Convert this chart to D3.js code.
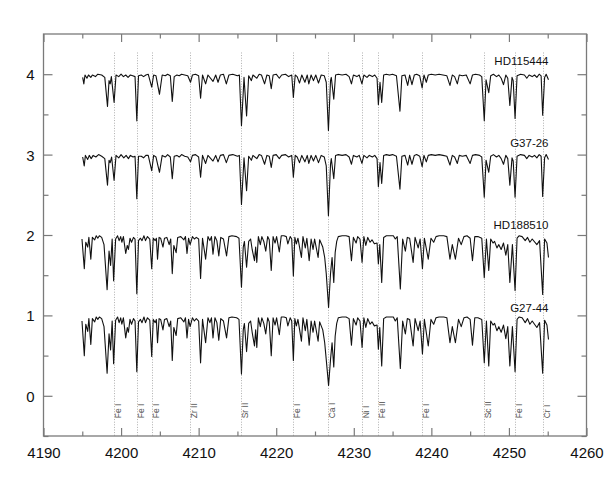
<!DOCTYPE html>
<html><head><meta charset="utf-8">
<script src="https://cdn.jsdelivr.net/npm/d3@7"></script>
<style>body{margin:0;background:#fff}</style>
</head><body><svg id="c" width="605" height="491"></svg>
<script>
// ---------- data (normalised flux) ----------
const starNames = ["HD115444", "G37-26", "HD188510", "G27-44"];
const offsets = [3, 2, 1, 0];
const labelLevels = [4.12, 3.10, 2.08, 1.04];

const hd115444 = [
[4195.05,0.96],[4195.2,0.88],[4195.35,0.99],[4195.6,0.95],[4195.8,0.99],[4196.1,0.96],[4196.3,0.99],[4196.7,0.97],[4197.0,1.0],[4197.5,0.99],[4197.9,0.96],
[4198.25,0.60],[4198.45,0.92],[4198.6,0.88],[4198.75,0.97],[4199.1,0.65],[4199.35,0.99],[4199.7,0.97],[4200.0,1.0],[4200.3,0.97],[4200.6,0.99],[4200.9,0.96],[4201.2,0.99],[4201.5,0.98],[4201.8,0.97],
[4202.03,0.42],[4202.25,0.98],[4202.6,0.99],[4202.9,0.97],[4203.2,0.99],[4203.5,1.0],[4203.95,0.84],[4204.2,0.99],[4204.5,0.98],[4204.95,0.75],[4205.3,0.99],[4205.7,0.98],[4206.0,1.0],[4206.35,0.98],
[4206.6,0.66],[4206.85,0.97],[4207.2,0.99],[4207.5,0.98],[4207.8,1.0],[4208.2,0.99],[4208.6,0.98],[4208.95,0.90],[4209.2,0.99],[4209.6,1.0],[4210.0,0.98],[4210.25,0.70],[4210.5,0.99],[4210.9,0.88],[4211.2,0.99],
[4211.85,0.91],[4212.2,0.99],[4212.5,0.90],[4212.8,0.99],[4213.2,1.0],[4213.57,0.88],[4213.9,0.99],[4214.4,1.0],[4215.0,0.98],[4215.25,0.99],[4215.52,0.36],[4215.85,0.96],[4216.18,0.48],[4216.45,0.98],
[4216.8,0.92],[4217.0,0.99],[4217.5,0.95],[4217.8,1.0],[4218.1,0.99],[4218.5,0.88],[4218.8,0.99],[4219.1,0.98],[4219.36,0.82],[4219.6,0.99],[4220.0,1.0],[4220.4,0.95],[4220.7,0.99],[4221.2,1.0],[4221.6,0.97],[4222.0,0.99],
[4222.21,0.71],[4222.45,0.99],[4222.7,0.97],[4223.0,0.89],[4223.3,0.99],[4223.7,0.90],[4224.0,0.99],[4224.2,0.88],[4224.5,0.99],[4224.8,0.92],[4225.1,0.99],[4225.45,0.89],[4225.8,0.99],[4226.2,0.98],[4226.45,0.90],
[4226.73,0.30],[4227.0,0.92],[4227.1,0.96],[4227.42,0.69],[4227.65,0.99],[4228.0,1.0],[4228.5,0.99],[4229.0,1.0],[4229.4,0.97],[4229.7,0.88],[4229.95,0.99],[4230.4,0.97],[4230.7,0.99],[4231.05,0.88],[4231.3,0.99],
[4231.7,0.96],[4232.0,0.99],[4232.4,0.97],[4232.7,0.99],[4233.0,0.95],[4233.17,0.62],[4233.38,0.90],[4233.6,0.65],[4233.85,0.99],[4234.2,1.0],[4234.6,0.99],[4235.0,1.0],[4235.5,0.98],[4235.95,0.54],[4236.2,0.98],
[4236.6,0.99],[4236.95,0.86],[4237.2,0.99],[4237.5,0.87],[4237.8,0.99],[4238.1,1.0],[4238.5,0.98],[4238.81,0.83],[4239.05,0.99],[4239.35,0.90],[4239.6,0.99],[4240.0,1.0],[4240.5,0.99],[4241.0,1.0],[4241.5,0.99],
[4242.0,0.98],[4242.4,0.86],[4242.7,0.99],[4243.0,0.97],[4243.35,0.88],[4243.6,0.99],[4244.0,0.98],[4244.5,0.99],[4245.0,0.88],[4245.3,0.99],[4245.7,1.0],[4246.2,0.99],[4246.5,0.97],[4246.82,0.42],[4247.05,0.93],
[4247.4,0.77],[4247.65,0.98],[4248.0,1.0],[4248.4,0.97],[4248.7,0.99],[4249.0,0.95],[4249.3,0.87],[4249.6,0.99],[4249.85,0.95],[4250.12,0.61],[4250.4,0.96],[4250.55,0.92],[4250.79,0.45],[4251.05,0.98],[4251.5,1.0],
[4252.0,0.99],[4252.3,0.95],[4252.6,0.99],[4253.0,0.97],[4253.3,0.99],[4253.6,0.96],[4253.9,1.0],[4254.15,0.98],[4254.35,0.49],[4254.6,0.96],[4254.8,1.0],[4255.1,0.93]
];

const g3726 = [
[4195.05,0.97],[4195.25,0.86],[4195.4,0.99],[4195.7,0.94],[4195.9,0.99],[4196.15,0.95],[4196.4,0.99],[4196.75,0.97],[4197.1,1.0],[4197.5,0.98],[4197.9,0.95],
[4198.25,0.62],[4198.45,0.93],[4198.6,0.90],[4198.78,0.97],[4199.1,0.68],[4199.35,0.99],[4199.7,0.96],[4200.0,1.0],[4200.35,0.96],[4200.65,0.99],[4200.95,0.95],[4201.2,0.99],[4201.55,0.97],[4201.8,0.98],
[4202.03,0.45],[4202.25,0.98],[4202.6,0.98],[4202.9,0.96],[4203.2,0.99],[4203.5,0.99],[4203.95,0.80],[4204.2,0.99],[4204.5,0.97],[4204.95,0.78],[4205.3,0.99],[4205.7,0.97],[4206.0,1.0],[4206.35,0.97],
[4206.6,0.70],[4206.85,0.98],[4207.2,0.99],[4207.5,0.97],[4207.8,1.0],[4208.2,0.98],[4208.6,0.97],[4208.95,0.91],[4209.2,0.99],[4209.6,1.0],[4210.0,0.97],[4210.25,0.72],[4210.5,0.99],[4210.9,0.89],[4211.2,0.99],
[4211.85,0.92],[4212.2,0.99],[4212.5,0.91],[4212.8,0.99],[4213.2,1.0],[4213.57,0.90],[4213.9,0.99],[4214.4,1.0],[4215.0,0.98],[4215.25,0.99],[4215.52,0.38],[4215.85,0.96],[4216.18,0.55],[4216.45,0.98],
[4216.8,0.93],[4217.0,0.99],[4217.5,0.95],[4217.8,1.0],[4218.1,0.99],[4218.5,0.88],[4218.8,0.99],[4219.1,0.98],[4219.36,0.84],[4219.6,0.99],[4220.0,1.0],[4220.4,0.95],[4220.7,0.99],[4221.2,1.0],[4221.6,0.97],[4222.0,0.99],
[4222.21,0.72],[4222.45,0.99],[4222.7,0.97],[4223.0,0.90],[4223.3,0.99],[4223.7,0.91],[4224.0,0.99],[4224.2,0.89],[4224.5,0.99],[4224.8,0.92],[4225.1,0.99],[4225.45,0.90],[4225.8,0.99],[4226.2,0.97],[4226.45,0.86],
[4226.73,0.24],[4227.0,0.88],[4227.1,0.95],[4227.42,0.70],[4227.65,0.99],[4228.0,1.0],[4228.5,0.99],[4229.0,1.0],[4229.4,0.97],[4229.7,0.88],[4229.95,0.99],[4230.4,0.97],[4230.7,0.99],[4231.05,0.89],[4231.3,0.99],
[4231.7,0.96],[4232.0,0.99],[4232.4,0.97],[4232.7,0.99],[4233.0,0.95],[4233.17,0.60],[4233.38,0.90],[4233.6,0.64],[4233.85,0.99],[4234.2,1.0],[4234.6,0.99],[4235.0,1.0],[4235.5,0.98],[4235.95,0.57],[4236.2,0.98],
[4236.6,0.99],[4236.95,0.87],[4237.2,0.99],[4237.5,0.88],[4237.8,0.99],[4238.1,1.0],[4238.5,0.98],[4238.81,0.85],[4239.05,0.99],[4239.35,0.91],[4239.6,0.99],[4240.0,1.0],[4240.5,0.99],[4241.0,1.0],[4241.5,0.99],
[4242.0,0.98],[4242.4,0.87],[4242.7,0.99],[4243.0,0.97],[4243.35,0.89],[4243.6,0.99],[4244.0,0.98],[4244.5,0.99],[4245.0,0.89],[4245.3,0.99],[4245.7,1.0],[4246.2,0.99],[4246.5,0.97],[4246.82,0.47],[4247.05,0.93],
[4247.4,0.78],[4247.65,0.98],[4248.0,1.0],[4248.4,0.97],[4248.7,0.99],[4249.0,0.95],[4249.3,0.88],[4249.6,0.99],[4249.85,0.95],[4250.12,0.62],[4250.4,0.96],[4250.55,0.92],[4250.79,0.47],[4251.05,0.98],[4251.5,1.0],
[4252.0,0.99],[4252.3,0.95],[4252.6,0.99],[4253.0,0.97],[4253.3,0.99],[4253.6,0.96],[4253.9,1.0],[4254.15,0.98],[4254.35,0.48],[4254.6,0.96],[4254.8,1.0],[4255.1,0.94]
];

const hd188510 = [
[4194.96,0.95],[4195.26,0.58],[4195.45,0.91],[4195.7,0.85],[4195.85,0.97],[4196.1,0.70],[4196.3,0.97],[4196.6,0.94],[4196.8,0.99],[4197.0,0.96],[4197.2,0.99],[4197.5,0.97],[4197.8,0.88],
[4198.2,0.32],[4198.45,0.80],[4198.65,0.62],[4198.85,0.95],[4199.04,0.43],[4199.3,0.95],[4199.55,0.99],[4199.75,0.93],[4199.95,0.98],[4200.1,0.91],[4200.3,0.98],[4200.6,0.77],[4200.8,0.87],[4200.95,0.82],
[4201.15,0.96],[4201.35,0.91],[4201.6,0.97],[4201.8,0.95],[4202.03,0.27],[4202.25,0.93],[4202.5,0.96],[4202.7,0.93],[4202.95,0.99],[4203.15,0.93],[4203.4,0.98],[4203.7,0.95],[4203.95,0.58],[4204.15,0.96],
[4204.4,0.93],[4204.55,0.96],[4204.7,0.70],[4204.9,0.97],[4205.1,0.96],[4205.4,0.85],[4205.6,0.96],[4205.9,0.97],[4206.2,0.88],[4206.4,0.95],[4206.6,0.52],[4206.8,0.87],[4207.1,0.78],[4207.3,0.97],[4207.7,0.98],
[4208.1,0.94],[4208.3,0.98],[4208.5,0.77],[4208.7,0.96],[4208.9,0.88],[4209.2,0.98],[4209.45,0.95],[4209.7,0.97],[4210.0,0.95],[4210.25,0.46],[4210.5,0.96],[4210.9,0.70],[4211.2,0.98],[4211.45,0.93],[4211.65,0.98],
[4211.85,0.76],[4212.1,0.98],[4212.35,0.93],[4212.6,0.74],[4212.85,0.97],[4213.2,0.95],[4213.6,0.74],[4213.9,0.98],[4214.3,0.99],[4214.9,0.98],[4215.2,0.96],[4215.52,0.35],[4215.75,0.85],[4215.9,0.92],[4216.18,0.60],
[4216.45,0.92],[4216.7,0.95],[4216.9,0.82],[4217.2,0.68],[4217.35,0.85],[4217.5,0.66],[4217.7,0.98],[4217.95,0.88],[4218.15,0.98],[4218.4,0.92],[4218.65,0.80],[4218.9,0.98],[4219.1,0.94],[4219.36,0.56],[4219.6,0.98],
[4219.85,0.90],[4220.05,0.98],[4220.4,0.79],[4220.65,0.99],[4221.0,0.99],[4221.3,0.98],[4221.5,0.89],[4221.8,0.98],[4222.0,0.95],[4222.21,0.49],[4222.4,0.97],[4222.6,0.89],[4222.8,0.96],[4223.25,0.72],[4223.45,0.98],
[4223.75,0.84],[4223.95,0.96],[4224.25,0.68],[4224.5,0.95],[4224.75,0.82],[4224.95,0.95],[4225.4,0.72],[4225.6,0.94],[4226.0,0.85],[4226.25,0.72],[4226.45,0.52],[4226.75,0.10],[4227.0,0.52],[4227.2,0.72],[4227.42,0.41],
[4227.6,0.78],[4227.8,0.92],[4228.0,0.98],[4228.5,0.99],[4229.0,0.99],[4229.4,0.98],[4229.7,0.68],[4229.95,0.97],[4230.3,0.90],[4230.5,0.98],[4230.8,0.95],[4231.07,0.66],[4231.3,0.98],[4231.55,0.87],[4231.8,0.97],
[4232.1,0.91],[4232.35,0.94],[4232.65,0.89],[4233.0,0.90],[4233.17,0.64],[4233.35,0.88],[4233.6,0.41],[4233.85,0.97],[4234.2,0.99],[4234.7,0.99],[4235.1,0.99],[4235.35,0.95],[4235.6,0.98],[4236.0,0.33],[4236.3,0.95],
[4236.65,0.80],[4236.9,0.97],[4237.2,0.96],[4237.65,0.66],[4237.9,0.97],[4238.3,0.84],[4238.55,0.95],[4238.85,0.58],[4239.1,0.96],[4239.6,0.70],[4239.95,0.96],[4240.3,0.91],[4240.6,0.98],[4241.0,0.99],[4241.6,0.99],
[4242.0,0.98],[4242.4,0.70],[4242.7,0.88],[4243.1,0.70],[4243.5,0.96],[4243.85,0.88],[4244.2,0.98],[4244.6,0.99],[4245.0,0.96],[4245.3,0.68],[4245.6,0.98],[4246.0,0.98],[4246.5,0.96],[4246.82,0.47],[4247.1,0.95],
[4247.4,0.56],[4247.65,0.95],[4247.95,0.90],[4248.15,0.92],[4248.45,0.84],[4248.7,0.88],[4249.0,0.82],[4249.3,0.90],[4249.6,0.75],[4249.85,0.88],[4250.12,0.41],[4250.45,0.88],[4250.79,0.31],[4251.05,0.96],[4251.3,0.99],
[4251.7,0.98],[4252.1,0.93],[4252.4,0.97],[4252.7,0.91],[4253.0,0.95],[4253.6,0.88],[4253.95,0.93],[4254.35,0.26],[4254.6,0.95],[4254.9,0.90],[4255.1,0.72]
];

const g2744 = [
[4194.96,0.93],[4195.26,0.50],[4195.45,0.89],[4195.7,0.80],[4195.85,0.96],[4196.1,0.64],[4196.3,0.96],[4196.6,0.92],[4196.8,0.98],[4197.0,0.95],[4197.2,0.98],[4197.5,0.96],[4197.8,0.86],
[4198.2,0.28],[4198.45,0.77],[4198.65,0.57],[4198.85,0.93],[4199.04,0.40],[4199.3,0.94],[4199.55,0.98],[4199.75,0.91],[4199.95,0.97],[4200.1,0.89],[4200.3,0.97],[4200.6,0.72],[4200.8,0.85],[4200.95,0.79],
[4201.15,0.95],[4201.35,0.89],[4201.6,0.96],[4201.8,0.93],[4202.03,0.30],[4202.25,0.92],[4202.5,0.95],[4202.7,0.91],[4202.95,0.98],[4203.15,0.91],[4203.4,0.97],[4203.7,0.94],[4203.95,0.49],[4204.15,0.95],
[4204.4,0.91],[4204.55,0.95],[4204.7,0.66],[4204.9,0.96],[4205.1,0.95],[4205.4,0.82],[4205.6,0.95],[4205.9,0.96],[4206.2,0.86],[4206.4,0.93],[4206.6,0.44],[4206.8,0.85],[4207.1,0.75],[4207.3,0.96],[4207.7,0.97],
[4208.1,0.92],[4208.3,0.97],[4208.5,0.72],[4208.7,0.95],[4208.9,0.86],[4209.2,0.97],[4209.45,0.93],[4209.7,0.96],[4210.0,0.93],[4210.25,0.41],[4210.5,0.95],[4210.9,0.66],[4211.2,0.97],[4211.45,0.91],[4211.65,0.97],
[4211.85,0.72],[4212.1,0.97],[4212.35,0.91],[4212.6,0.69],[4212.85,0.96],[4213.2,0.93],[4213.6,0.72],[4213.9,0.97],[4214.3,0.98],[4214.9,0.97],[4215.2,0.95],[4215.52,0.27],[4215.75,0.82],[4215.9,0.90],[4216.18,0.55],
[4216.45,0.90],[4216.7,0.93],[4216.9,0.79],[4217.2,0.62],[4217.35,0.82],[4217.5,0.60],[4217.7,0.97],[4217.95,0.86],[4218.15,0.97],[4218.4,0.90],[4218.65,0.77],[4218.9,0.97],[4219.1,0.92],[4219.36,0.50],[4219.6,0.97],
[4219.85,0.88],[4220.05,0.97],[4220.4,0.76],[4220.65,0.98],[4221.0,0.98],[4221.3,0.97],[4221.5,0.87],[4221.8,0.97],[4222.0,0.93],[4222.21,0.44],[4222.4,0.96],[4222.6,0.87],[4222.8,0.95],[4223.25,0.68],[4223.45,0.97],
[4223.75,0.81],[4223.95,0.95],[4224.25,0.63],[4224.5,0.93],[4224.75,0.79],[4224.95,0.93],[4225.4,0.68],[4225.6,0.92],[4226.0,0.82],[4226.25,0.66],[4226.45,0.45],[4226.75,0.13],[4227.0,0.45],[4227.2,0.66],[4227.42,0.36],
[4227.6,0.74],[4227.8,0.90],[4228.0,0.97],[4228.5,0.98],[4229.0,0.98],[4229.4,0.96],[4229.7,0.63],[4229.95,0.96],[4230.3,0.88],[4230.5,0.97],[4230.8,0.93],[4231.07,0.60],[4231.3,0.97],[4231.55,0.85],[4231.8,0.96],
[4232.1,0.89],[4232.35,0.92],[4232.65,0.87],[4233.0,0.88],[4233.17,0.58],[4233.35,0.85],[4233.6,0.37],[4233.85,0.96],[4234.2,0.98],[4234.7,0.98],[4235.1,0.98],[4235.35,0.93],[4235.6,0.97],[4236.0,0.34],[4236.3,0.93],
[4236.65,0.77],[4236.9,0.96],[4237.2,0.95],[4237.65,0.62],[4237.9,0.96],[4238.3,0.81],[4238.55,0.93],[4238.85,0.52],[4239.1,0.95],[4239.6,0.62],[4239.95,0.95],[4240.3,0.89],[4240.6,0.97],[4241.0,0.98],[4241.6,0.98],
[4242.0,0.97],[4242.4,0.66],[4242.7,0.86],[4243.1,0.66],[4243.5,0.95],[4243.85,0.86],[4244.2,0.97],[4244.6,0.98],[4245.0,0.95],[4245.3,0.63],[4245.6,0.97],[4246.0,0.97],[4246.5,0.95],[4246.82,0.41],[4247.1,0.93],
[4247.4,0.37],[4247.65,0.93],[4247.95,0.88],[4248.15,0.90],[4248.45,0.81],[4248.7,0.86],[4249.0,0.79],[4249.3,0.88],[4249.6,0.71],[4249.85,0.86],[4250.12,0.37],[4250.45,0.86],[4250.79,0.30],[4251.05,0.95],[4251.3,0.98],
[4251.7,0.97],[4252.1,0.91],[4252.4,0.96],[4252.7,0.89],[4253.0,0.93],[4253.6,0.85],[4253.95,0.91],[4254.35,0.28],[4254.6,0.94],[4254.9,0.88],[4255.1,0.70]
];

const spectra = [hd115444, g3726, hd188510, g2744];

const lineWavelengths = [4199.05, 4202.03, 4203.95, 4208.9, 4215.52, 4222.21, 4226.73, 4231.07, 4233.17, 4238.81, 4246.82, 4250.79, 4254.4];
const lineIds = ["Fe I", "Fe I", "Fe I", "Zr II", "Sr II", "Fe I", "Ca I", "Ni I", "Fe II", "Fe I", "Sc II", "Fe I", "Cr I"];

const xMajorTicks = [4190, 4200, 4210, 4220, 4230, 4240, 4250, 4260];
const xMinorTicks = [4195, 4205, 4215, 4225, 4235, 4245, 4255];
const yMajorTicks = [0, 1, 2, 3, 4];
const yMinorTicks = [-0.5, 0.5, 1.5, 2.5, 3.5];

// ---------- drawing ----------
const svg = d3.select("#c");
const L = 43.5, R = 586.5, T = 34, B = 436;
const x = d3.scaleLinear().domain([4190, 4260]).range([L, R]);
const y = d3.scaleLinear().domain([-0.5, 4.5]).range([B, T]);
const font = "'Liberation Sans', Arial, sans-serif";
const axisColor = "#7a7a7a";

// identification lines
const ids = svg.append("g");
lineWavelengths.forEach((w, i) => {
  const px = Math.round(x(w)) + 0.5;
  ids.append("line").attr("x1", px).attr("x2", px).attr("y1", y(4.27)).attr("y2", B)
    .attr("stroke", "#9a9a9a").attr("stroke-width", 0.8).attr("stroke-dasharray", "1,1.6");
  ids.append("text").attr("transform", `translate(${px + 6.2},${y(-0.28)}) rotate(-90)`)
    .attr("font-family", font).attr("font-size", 8.5).attr("fill", "#555").text(lineIds[i]);
});

// spectra
const line = d3.line().x(d => x(d[0])).y(d => y(d[1]));
spectra.forEach((s, i) => {
  const pts = s.map(d => [d[0], d[1] + offsets[i]]);
  svg.append("path").attr("d", line(pts)).attr("fill", "none")
    .attr("stroke", "#111").attr("stroke-width", 1.1).attr("stroke-linejoin", "round");
  svg.append("text").attr("x", 548.5).attr("y", y(labelLevels[i])).attr("text-anchor", "end")
    .attr("font-family", font).attr("font-size", 11.5).attr("fill", "#111").text(starNames[i]);
});

// axes
function styleAxis(g) {
  g.select(".domain").remove();
  g.selectAll(".tick line").attr("stroke", axisColor).attr("stroke-width", 1.2);
}
const gB = svg.append("g").attr("transform", `translate(0,${B})`)
  .call(d3.axisBottom(x).tickValues(xMajorTicks).tickSize(-8).tickFormat(d3.format("d"))).call(styleAxis);
gB.selectAll("text").attr("y", 21.5).attr("dy", 0).attr("font-family", font).attr("font-size", 15).attr("fill", "#111");
svg.append("g").attr("transform", `translate(0,${B})`)
  .call(d3.axisBottom(x).tickValues(xMinorTicks).tickSize(-4.5).tickFormat("")).call(styleAxis);
svg.append("g").attr("transform", `translate(0,${T})`)
  .call(d3.axisTop(x).tickValues(xMajorTicks).tickSize(-8).tickFormat("")).call(styleAxis);
svg.append("g").attr("transform", `translate(0,${T})`)
  .call(d3.axisTop(x).tickValues(xMinorTicks).tickSize(-4.5).tickFormat("")).call(styleAxis);

const gL = svg.append("g").attr("transform", `translate(${L},0)`)
  .call(d3.axisLeft(y).tickValues(yMajorTicks).tickSize(-9).tickFormat(d3.format("d"))).call(styleAxis);
gL.selectAll("text").attr("x", -9).attr("dy", "0.36em").attr("font-family", font).attr("font-size", 15).attr("fill", "#111");
svg.append("g").attr("transform", `translate(${L},0)`)
  .call(d3.axisLeft(y).tickValues(yMinorTicks).tickSize(-5).tickFormat("")).call(styleAxis);
svg.append("g").attr("transform", `translate(${R},0)`)
  .call(d3.axisRight(y).tickValues(yMajorTicks).tickSize(-9).tickFormat("")).call(styleAxis);
svg.append("g").attr("transform", `translate(${R},0)`)
  .call(d3.axisRight(y).tickValues(yMinorTicks).tickSize(-5).tickFormat("")).call(styleAxis);

svg.append("rect").attr("x", L).attr("y", T).attr("width", R - L).attr("height", B - T)
  .attr("fill", "none").attr("stroke", axisColor).attr("stroke-width", 1.3);
</script></body></html>
